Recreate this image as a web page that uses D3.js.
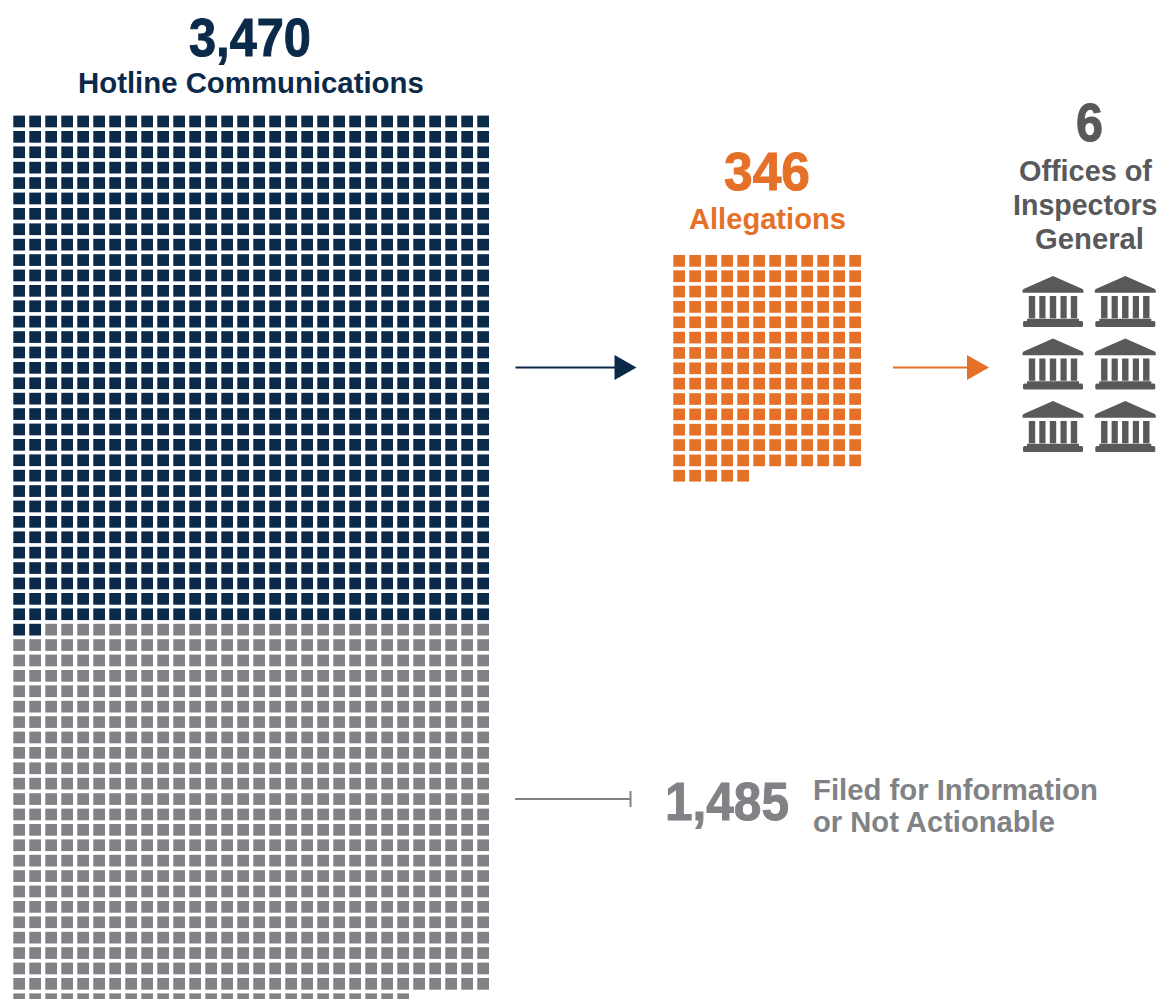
<!DOCTYPE html>
<meta charset="utf-8">
<head>
  <title>Hotline Communications</title>
  <script src="https://d3js.org/d3.v7.min.js"></script>
  <style>
    html, body { margin: 0; padding: 0; background: #fff; }
    svg { display: block; }
    text { font-family: "Liberation Sans Narrow", "Liberation Sans", sans-serif; font-weight: 700; }
  </style>
</head>
<body>
<div id="chart"></div>
<script>

// each square stands for 2 communications / allegations
var perSquare = 2;
var hotlineTotal = 3470;
var filedTotal = 1485;
var allegationsTotal = 346;
var officesTotal = 6;

var hotlineColumns = 30;
var allegationColumns = 12;
var officeColumns = 2;

var navy = "#0b2949", gray = "#808285", orange = "#e57128", dark = "#58595b";

var width = 1162, height = 999;

var svg = d3.select("#chart").append("svg")
    .attr("width", width)
    .attr("height", height);

var square = 11.7;

// column / row position scales
var xHotline = d3.scaleLinear().domain([0, 1]).range([13.3, 29.3]);
var yHotline = d3.scaleLinear().domain([0, 1]).range([115.6, 131]);
var xAllegation = d3.scaleLinear().domain([0, 1]).range([673.3, 689.3]);
var yAllegation = d3.scaleLinear().domain([0, 1]).range([255, 270.35]);
var xOffice = d3.scaleLinear().domain([0, 1]).range([1053, 1125.3]);
var yOffice = d3.scaleLinear().domain([0, 1]).range([276, 338.5]);

// hotline squares, the last ones are the filed ones
var hotlineCount = Math.round(hotlineTotal / perSquare);
var filedCount = Math.round(filedTotal / perSquare);

svg.append("g").selectAll("rect")
    .data(d3.range(hotlineCount))
  .join("rect")
    .attr("x", function(d) { return xHotline(d % hotlineColumns); })
    .attr("y", function(d) { return yHotline(Math.floor(d / hotlineColumns)); })
    .attr("width", square)
    .attr("height", square)
    .attr("fill", function(d) { return d < hotlineCount - filedCount ? navy : gray; });

svg.append("g").selectAll("rect")
    .data(d3.range(allegationsTotal / perSquare))
  .join("rect")
    .attr("x", function(d) { return xAllegation(d % allegationColumns); })
    .attr("y", function(d) { return yAllegation(Math.floor(d / allegationColumns)); })
    .attr("width", square)
    .attr("height", square)
    .attr("fill", orange);

// bank icon, origin at the tip of the roof
var bankPath = "M0,0 L29.5,13 Q31,14 30.5,16.7 L-30.5,16.7 Q-31,14 -29.5,13 Z" +
  "M-24.2,20 h6.4 v22.3 h-6.4 Z M-13.7,20 h6.2 v22.3 h-6.2 Z M-3.2,20 h6.4 v22.3 h-6.4 Z M7.5,20 h6.2 v22.3 h-6.2 Z M17.8,20 h6.4 v22.3 h-6.4 Z" +
  "M-26,42.8 h52 v2.6 h-52 Z" +
  "M-28.5,45 h57 q1.5,0 1.5,1.5 v3.5 q0,1 -1.5,1 h-57 q-1.5,0 -1.5,-1 v-3.5 q0,-1.5 1.5,-1.5 Z";

svg.append("g").selectAll("path")
    .data(d3.range(officesTotal))
  .join("path")
    .attr("d", bankPath)
    .attr("fill", dark)
    .attr("transform", function(d) {
      return "translate(" + xOffice(d % officeColumns) + "," + yOffice(Math.floor(d / officeColumns)) + ")";
    });

// arrows
function arrow(x0, x1, y, color) {
  svg.append("line")
      .attr("x1", x0).attr("x2", x1 - 20).attr("y1", y).attr("y2", y)
      .attr("stroke", color).attr("stroke-width", 2);
  svg.append("path")
      .attr("d", "M" + (x1 - 22) + "," + (y - 12.5) + " L" + x1 + "," + y + " L" + (x1 - 22) + "," + (y + 12.5) + " Z")
      .attr("fill", color);
}
arrow(515.5, 636.5, 367.5, navy);
arrow(893, 989, 367.5, orange);

svg.append("line")
    .attr("x1", 515).attr("x2", 630).attr("y1", 799).attr("y2", 799)
    .attr("stroke", gray).attr("stroke-width", 2);
svg.append("line")
    .attr("x1", 630.5).attr("x2", 630.5).attr("y1", 791).attr("y2", 807)
    .attr("stroke", gray).attr("stroke-width", 2);

// text, squeezed to the measured width because the original face is not installed
function label(str, x0, x1, baseline, size, color, heavy) {
  var t = svg.append("text")
      .attr("font-size", size)
      .attr("fill", color)
      .text(str);
  if (heavy) t.attr("stroke", color).attr("stroke-width", heavy);
  var sx = (x1 - x0) / t.node().getComputedTextLength();
  t.attr("transform", "translate(" + x0 + "," + baseline + ") scale(" + sx + ",1)");
}
var fmt = d3.format(",");

label(fmt(hotlineTotal), 189, 311, 55.5, 53, navy, 1);
label("Hotline Communications", 78, 424, 93, 30, navy);
label(String(allegationsTotal), 724, 810, 190, 53, orange, 1);
label("Allegations", 689, 846, 229, 30, orange);
label(String(officesTotal), 1076, 1103, 141, 53, dark, 1);
label("Offices of", 1019, 1152, 181, 30, dark);
label("Inspectors", 1013, 1157.5, 215, 30, dark);
label("General", 1035, 1144, 249, 30, dark);
label(fmt(filedTotal), 665, 789, 820, 53, gray, 1);
label("Filed for Information", 813, 1098, 800, 30, gray);
label("or Not Actionable", 813, 1055, 832, 30, gray);

</script>
</body>
